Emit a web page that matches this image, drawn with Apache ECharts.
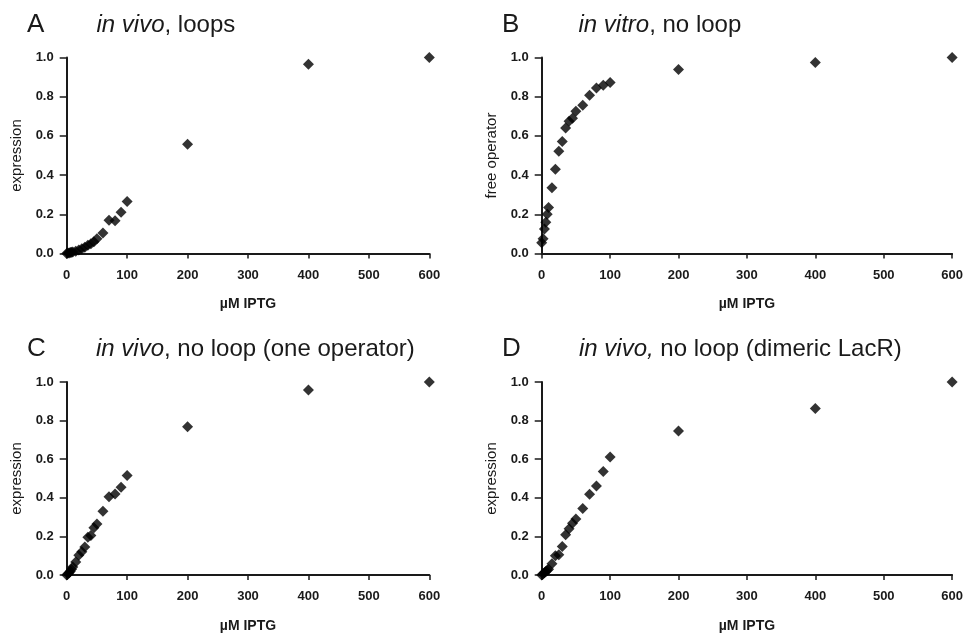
<!DOCTYPE html>
<html>
<head>
<meta charset="utf-8">
<script src="https://cdn.jsdelivr.net/npm/echarts@6/dist/echarts.min.js"></script>
<style>
html,body{margin:0;padding:0;background:#fff;}
#chart{width:966px;height:634px;}
</style>
</head>
<body>
<div id="chart"></div>
<script>
// Data
const iptg = [0, 2, 4, 6, 8, 10, 15, 20, 25, 30, 35, 40, 45, 50, 60, 70, 80, 90, 100, 200, 400, 600];
const vivoLoops = [0, 0.002, 0.003, 0.005, 0.007, 0.008, 0.012, 0.018, 0.024, 0.032, 0.042, 0.05, 0.06, 0.075, 0.105, 0.17, 0.167, 0.21, 0.265, 0.558, 0.966, 1.0];
const vitroNoLoop = [0.055, 0.075, 0.125, 0.16, 0.2, 0.235, 0.335, 0.43, 0.522, 0.571, 0.64, 0.675, 0.69, 0.726, 0.757, 0.808, 0.845, 0.859, 0.872, 0.939, 0.974, 1.0];
const vivoOneOperator = [0, 0.005, 0.012, 0.02, 0.03, 0.042, 0.068, 0.102, 0.12, 0.145, 0.195, 0.205, 0.245, 0.264, 0.33, 0.405, 0.42, 0.455, 0.515, 0.768, 0.959, 1.0];
const vivoDimeric = [0, 0.005, 0.012, 0.018, 0.025, 0.03, 0.058, 0.1, 0.105, 0.148, 0.208, 0.24, 0.268, 0.29, 0.345, 0.418, 0.461, 0.536, 0.612, 0.746, 0.863, 1.0];
const xTicks = [0, 100, 200, 300, 400, 500, 600];
const yTicks = [0.0, 0.2, 0.4, 0.6, 0.8, 1.0];
const panelLetters = ['A', 'B', 'C', 'D'];
const panelTitlesItalic = ['in vivo', 'in vitro', 'in vivo', 'in vivo,'];
const panelTitlesRest = [', loops', ', no loop', ', no loop (one operator)', ' no loop (dimeric LacR)'];
const yNames = ['expression', 'free operator', 'expression', 'expression'];
const xName = 'µM IPTG';
const panelSeries = [vivoLoops, vitroNoLoop, vivoOneOperator, vivoDimeric];

const FONT = '"Liberation Sans", Arial, sans-serif';
const INK = '#1a1a1a';

const grids = [
  {left: 66.7, top: 57.5, width: 362.6, height: 196},
  {left: 541.7, top: 57.5, width: 411.5, height: 196},
  {left: 66.7, top: 382, width: 362.6, height: 195.3},
  {left: 541.7, top: 382, width: 412, height: 195.3}
];
const letterPos = [[27, 11.5], [502, 11.5], [27, 336], [502, 336]];
const titlePos = [[96.5, 13], [578.5, 13], [96, 337], [579, 337]];

const chart = echarts.init(document.getElementById('chart'), null, {renderer: 'canvas'});

const titles = [];
panelLetters.forEach((l, i) => {
  titles.push({
    text: l, left: letterPos[i][0], top: letterPos[i][1], padding: 0,
    textStyle: {fontFamily: FONT, fontSize: 26, fontWeight: 'normal', color: INK}
  });
  titles.push({
    text: '{i|' + panelTitlesItalic[i] + '}{r|' + panelTitlesRest[i] + '}',
    left: titlePos[i][0], top: titlePos[i][1], padding: 0,
    textStyle: {
      fontFamily: FONT, fontSize: 24, fontWeight: 'normal', color: INK,
      rich: {
        i: {fontFamily: FONT, fontSize: 24, fontStyle: 'italic', color: INK},
        r: {fontFamily: FONT, fontSize: 24, color: INK}
      }
    }
  });
});

const xAxes = grids.map((g, i) => ({
  gridIndex: i, type: 'value', min: xTicks[0], max: xTicks[xTicks.length - 1],
  interval: xTicks[1] - xTicks[0],
  name: xName, nameLocation: 'middle', nameGap: 44,
  nameTextStyle: {fontFamily: FONT, fontSize: 14, fontWeight: 'bold', color: INK},
  axisLine: {show: true, onZero: false, lineStyle: {color: INK, width: 2}},
  axisTick: {show: true, inside: false, length: 5, lineStyle: {color: INK, width: 1.5}},
  splitLine: {show: false},
  axisLabel: {fontFamily: FONT, fontSize: 13, fontWeight: 'bold', color: INK, margin: 15}
}));
const yAxes = grids.map((g, i) => ({
  gridIndex: i, type: 'value', min: yTicks[0], max: yTicks[yTicks.length - 1],
  interval: 0.2,
  name: yNames[i], nameLocation: 'middle', nameGap: 42, nameRotate: 90,
  nameTextStyle: {fontFamily: FONT, fontSize: 15, fontWeight: 'normal', color: INK},
  axisLine: {show: true, onZero: false, lineStyle: {color: INK, width: 2}},
  axisTick: {show: true, inside: false, length: 7, lineStyle: {color: INK, width: 1.5}},
  splitLine: {show: false},
  axisLabel: {fontFamily: FONT, fontSize: 13, fontWeight: 'bold', color: INK, margin: 13,
    formatter: v => v.toFixed(1)}
}));
const series = panelSeries.map((vals, i) => ({
  type: 'scatter', xAxisIndex: i, yAxisIndex: i, clip: false,
  symbol: 'diamond', symbolSize: 11,
  itemStyle: {color: '#000'},
  data: iptg.map((x, k) => [x, vals[k]])
}));

chart.setOption({
  animation: false,
  backgroundColor: '#fff',
  title: titles,
  grid: grids,
  xAxis: xAxes,
  yAxis: yAxes,
  series: series
});
</script>
</body>
</html>
